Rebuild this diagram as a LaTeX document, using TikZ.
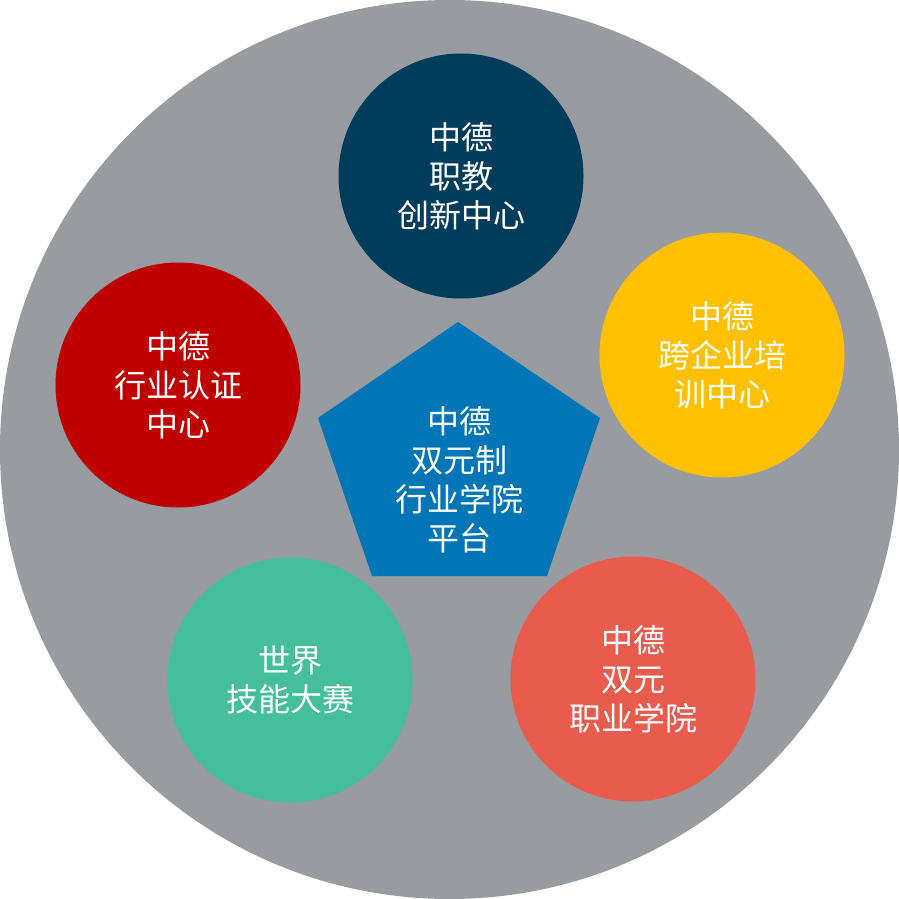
\documentclass[tikz,border=0pt]{standalone}
\usepackage{fontspec}
\newfontfamily\cjk{Noto Sans CJK SC}
\usetikzlibrary{positioning}
\definecolor{bggray}{RGB}{152,155,160}
\definecolor{navyblue}{RGB}{0,61,92}
\definecolor{sunyellow}{RGB}{255,192,0}
\definecolor{deepred}{RGB}{192,0,0}
\definecolor{mintgreen}{RGB}{69,190,156}
\definecolor{coralred}{RGB}{233,91,76}
\definecolor{pentblue}{RGB}{0,118,182}

\begin{document}
\begin{tikzpicture}[
        x=0.5pt, y=-0.5pt,
        label/.style={align=center, text=white, font=\cjk\fontsize{16}{19.5}\selectfont},
        hub/.style={circle, minimum size=122.5pt, inner sep=0pt, label}
    ]
        \useasboundingbox (0,0) rectangle (899,899);
        \fill[bggray] (449.5,449.5) circle (224.75pt);

        % centre pentagon
        \fill[pentblue] (458,322) -- (600,418) -- (547,576) -- (372,576) -- (318,418) -- cycle;
        \node[label] (platform) at (459,480) {中德\\双元制\\行业学院\\平台};

        % surrounding circles
        \node[hub, fill=navyblue] (innov) at (461,176) {中德\\职教\\创新中心};
        \node[hub, fill=sunyellow] (train) at (722,355) {中德\\跨企业培\\训中心};
        \node[hub, fill=deepred] (cert) at (178,385) {中德\\行业认证\\中心};
        \node[hub, fill=mintgreen] (skills) at (290,680) {世界\\技能大赛};
        \node[hub, fill=coralred] (college) at (633,679) {中德\\双元\\职业学院};
    \end{tikzpicture}
\end{document}
